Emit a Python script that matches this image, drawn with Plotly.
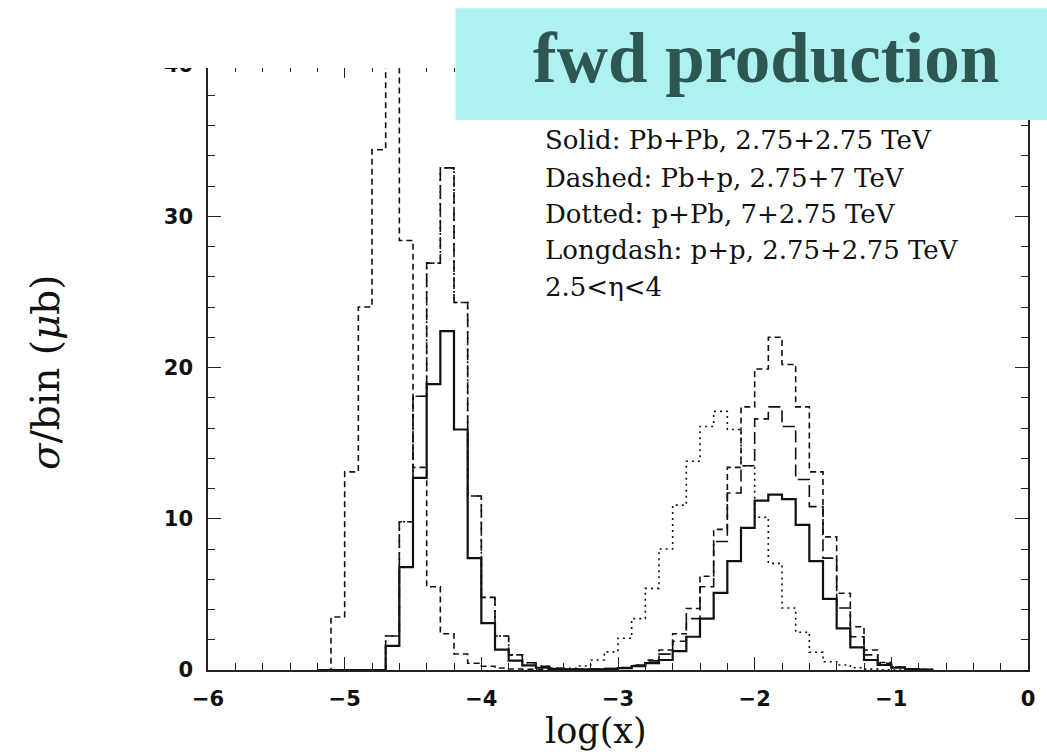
import plotly.graph_objects as go

# lower bin edges (bin width 0.1 in log(x)); last upper edge = -0.7
bin_lower = [-5.2, -5.1, -5.0, -4.9, -4.8, -4.7, -4.6, -4.5, -4.4, -4.3,
             -4.2, -4.1, -4.0, -3.9, -3.8, -3.7, -3.6, -3.5, -3.4, -3.3,
             -3.2, -3.1, -3.0, -2.9, -2.8, -2.7, -2.6, -2.5, -2.4, -2.3,
             -2.2, -2.1, -2.0, -1.9, -1.8, -1.7, -1.6, -1.5, -1.4, -1.3,
             -1.2, -1.1, -1.0, -0.9, -0.8]
last_edge = -0.7

# Solid: Pb+Pb, 2.75+2.75 TeV
solid_pbpb = [0, 0, 0, 0, 0, 1.6, 6.8, 12.7, 18.9, 22.4,
              15.9, 7.4, 3.1, 1.35, 0.62, 0.3, 0.15, 0.08, 0.05, 0.04,
              0.05, 0.07, 0.12, 0.25, 0.45, 0.66, 1.25, 2.2, 3.4, 5.1,
              7.2, 9.4, 11.2, 11.6, 11.3, 9.6, 7.2, 4.7, 2.75, 1.5,
              0.66, 0.33, 0.15, 0.06, 0.02]
# Dashed: Pb+p, 2.75+7 TeV
dashed_pbp = [0, 3.5, 13.1, 24.0, 34.4, 42.0, 28.4, 13.4, 5.5, 2.4,
              1.06, 0.45, 0.25, 0.13, 0.07, 0.04, 0.03, 0.02, 0.02, 0.02,
              0.03, 0.06, 0.12, 0.3, 0.66, 1.32, 2.4, 4.07, 6.2, 9.3,
              13.4, 17.4, 19.9, 22.0, 20.2, 17.4, 13.1, 8.8, 5.07, 2.86,
              1.32, 0.5, 0.2, 0.08, 0.03]
# Dotted: p+Pb, 7+2.75 TeV
dotted_ppb = [0, 0, 0, 0, 0, 2.25, 9.8, 18.1, 26.9, 33.2,
              24.3, 11.5, 4.8, 2.25, 1.0, 0.48, 0.24, 0.12, 0.12, 0.26,
              0.66, 1.2, 2.1, 3.4, 5.4, 8.0, 10.9, 13.8, 16.1, 17.1,
              15.9, 13.5, 10.1, 7.05, 4.1, 2.5, 1.17, 0.55, 0.33, 0.15,
              0.06, 0.02, 0, 0, 0]
# Longdash: p+p, 2.75+2.75 TeV
longdash_pp = [0, 0, 0, 0, 0, 2.25, 9.8, 18.1, 26.9, 33.2,
               24.3, 11.5, 4.8, 2.25, 1.0, 0.48, 0.24, 0.12, 0.07, 0.05,
               0.06, 0.09, 0.16, 0.32, 0.6, 1.05, 1.9, 3.4, 5.5, 8.5,
               11.7, 13.5, 16.6, 17.4, 16.1, 12.6, 10.8, 7.4, 4.1, 2.2,
               1.0, 0.45, 0.2, 0.08, 0.03]

legend_lines = ["Solid: Pb+Pb, 2.75+2.75 TeV",
                "Dashed: Pb+p, 2.75+7 TeV",
                "Dotted: p+Pb, 7+2.75 TeV",
                "Longdash: p+p, 2.75+2.75 TeV",
                "2.5<\u03b7<4"]

y_ticks = [0, 10, 20, 30, 40]
x_ticks = [-6, -5, -4, -3, -2, -1, 0]


def step_xy(vals):
    xs = [bin_lower[0]] + bin_lower + [last_edge]
    ys = [0] + list(vals) + [0]
    return xs, ys


fig = go.Figure()
series = [
    (dotted_ppb, "2px,4px", 1.6),
    (longdash_pp, "12px,5px", 1.6),
    (dashed_pbp, "6px,4px", 1.6),
    (solid_pbpb, "solid", 2.2),
]
for vals, dash, w in series:
    xs, ys = step_xy(vals)
    fig.add_trace(go.Scatter(x=xs, y=ys, mode="lines", line_shape="hv",
                             line=dict(color="#111111", width=w, dash=dash),
                             showlegend=False, hoverinfo="skip"))

axis_common = dict(showline=True, linecolor="#222222", linewidth=1.6,
                   mirror="ticks", ticks="inside", tickcolor="#222222",
                   ticklen=13, tickwidth=1.4, showgrid=False, zeroline=False,
                   tickfont=dict(family="DejaVu Sans", size=21, color="#111111",
                                 weight="bold"))

fig.update_xaxes(range=[-6, 0], tickvals=x_ticks, ticklabelstandoff=9,
                 minor=dict(dtick=0.2, ticklen=7, ticks="inside",
                            tickcolor="#222222", tickwidth=1.2),
                 **axis_common)
fig.update_yaxes(range=[0, 40], tickvals=y_ticks, ticklabelstandoff=9,
                 minor=dict(dtick=2, ticklen=7, ticks="inside",
                            tickcolor="#222222", tickwidth=1.2),
                 **axis_common)

shapes = [
    # white mask: the original picture is cut just below the 40 line
    dict(type="rect", xref="paper", yref="paper", x0=-0.3, x1=1.05,
         y0=0.995, y1=1.15, fillcolor="white", line=dict(width=0),
         layer="above"),
    # title box
    dict(type="rect", xref="paper", yref="paper", x0=0.3018, x1=1.05,
         y0=0.909, y1=1.094, fillcolor="#AEF1F0", line=dict(width=0),
         layer="above"),
]

annotations = [
    dict(text="<b>fwd production</b>", xref="paper", yref="paper",
         x=0.681, y=1.011, xanchor="center", yanchor="middle", showarrow=False,
         font=dict(family="Liberation Serif", size=71, color="#2E5652")),
    dict(text="log(x)", xref="paper", yref="paper", x=0.4727, y=-0.100,
         xanchor="center", yanchor="middle", showarrow=False,
         font=dict(family="DejaVu Serif", size=35, color="#111111")),
    dict(text="<i>\u03c3</i>/bin (<i>\u03bc</i>b)", xref="paper", yref="paper",
         x=-0.1976, y=0.4926, xanchor="center", yanchor="middle", textangle=-90,
         showarrow=False,
         font=dict(family="DejaVu Serif", size=39, color="#111111")),
]
line_y = [0.876, 0.813, 0.754, 0.694, 0.633]
for txt, yy in zip(legend_lines, line_y):
    annotations.append(dict(text=txt, xref="paper", yref="paper", x=0.4085,
                            y=yy, xanchor="left", yanchor="middle",
                            showarrow=False,
                            font=dict(family="DejaVu Serif", size=26,
                                      color="#111111")))

fig.update_layout(width=1047, height=754,
                  margin=dict(l=208, r=14, t=65, b=84),
                  paper_bgcolor="white", plot_bgcolor="white",
                  shapes=shapes, annotations=annotations)

fig.write_html("out.html")
